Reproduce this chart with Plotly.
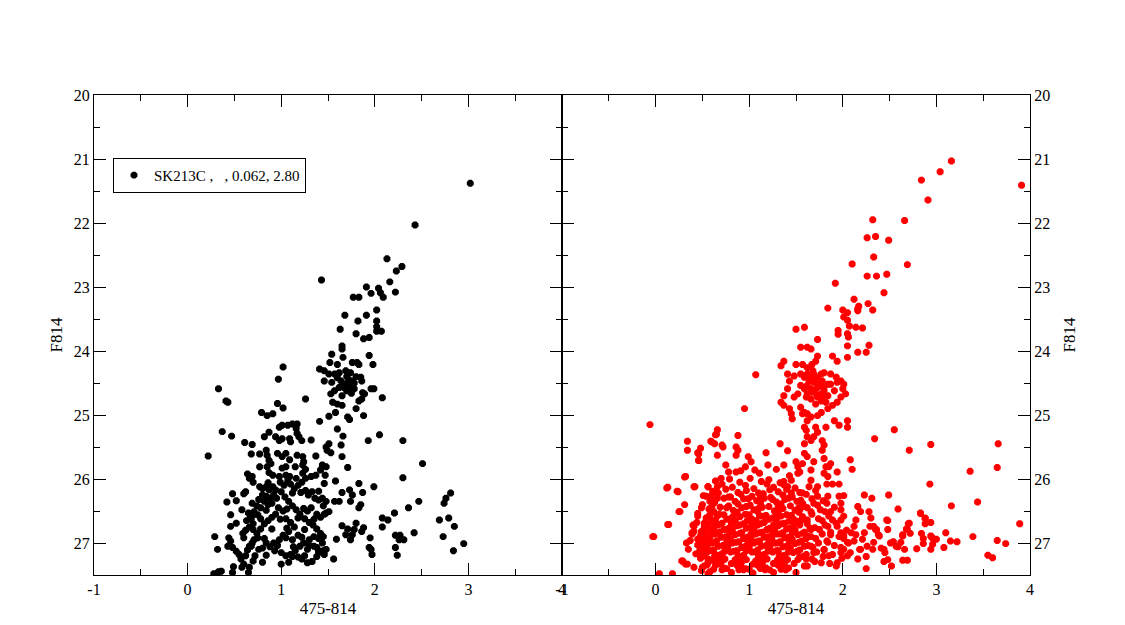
import plotly.graph_objects as go

# ---------------- LEFT PANEL (black) ----------------
left_upper = [(3.02,21.38),(2.43,22.03),(2.13,22.56),(2.29,22.68),(2.23,22.75),(2.16,22.92),(2.22,23.08),
 (2.04,23.02),(2.06,23.09),(2.09,23.16),(1.91,23.00),(1.96,23.10),(1.77,23.16),(1.83,23.16),(1.43,22.89),
 (1.68,23.44),(1.91,23.44),(1.82,23.53),(2.02,23.36),(2.02,23.53),(2.02,23.62),(2.02,23.69),(2.07,23.69),
 (1.63,23.66),(1.80,23.73),(1.88,23.81),(1.94,23.79)]

left_clump = [(1.65,23.92),(1.65,23.97),(1.54,24.05),(1.94,24.07),(1.98,24.21),(1.66,24.10),(1.52,24.18),
 (1.60,24.21),(1.76,24.18),(1.81,24.18),(1.83,24.21),(1.41,24.28),(1.46,24.31),(1.51,24.36),(1.57,24.36),
 (1.62,24.34),(1.69,24.31),(1.74,24.34),(1.46,24.47),(1.54,24.49),(1.64,24.47),(1.69,24.52),(1.73,24.49),
 (1.76,24.47),(1.85,24.41),(1.86,24.47),(1.62,24.57),(1.67,24.57),(1.73,24.57),(1.78,24.59),(1.96,24.59),
 (1.99,24.59),(1.87,24.65),(1.89,24.67),(1.53,24.67),(1.57,24.62),(1.65,24.70),(1.83,24.78),(1.86,24.75),
 (2.08,24.73),(1.55,24.80),(1.60,24.83),(1.65,24.85),(1.80,24.90),(1.71,25.03),(1.73,25.07),(1.88,25.01),
 (1.51,25.02),(1.58,24.96),(1.41,25.10),(1.70,24.40),(1.72,24.45),(1.66,24.52),(1.78,24.50),(1.70,24.62),
 (1.75,24.66),(1.60,24.42),(1.80,24.40)]

left_mid = [(1.60,25.22),(1.66,25.33),(1.93,25.40),(2.05,25.31),(2.30,25.40),(1.51,25.45),(1.48,25.50),
 (1.49,25.55),(1.64,25.47),(1.65,25.65),(1.53,25.59),(2.51,25.76),(1.71,25.82),(1.58,26.03),(1.83,26.07),
 (1.99,26.12),(2.30,25.98),(1.87,26.21),(1.73,26.17),(1.76,26.25),(1.74,26.35),(1.65,26.21),(1.57,26.35),
 (1.62,26.35),(1.85,26.40),(1.83,26.45),(1.51,26.51),(1.48,26.53)]

left_tail = [(2.21,26.53),(2.14,26.64),(2.08,26.61),(2.08,26.75),(2.36,26.45),(2.47,26.35),(2.69,26.64),
 (2.74,26.38),(2.76,26.30),(2.81,26.22),(2.79,26.61),(2.85,26.74),(2.73,26.90),(2.84,27.12),(2.95,27.01),
 (2.42,26.84),(2.22,26.88),(2.27,26.88),(2.26,26.95),(2.31,26.95),(2.22,27.07),(2.24,27.19),(1.95,26.92),
 (1.94,27.07),(1.96,27.10),(1.97,27.18),(1.65,26.73),(1.71,26.78),(1.80,26.69),(1.78,26.79),(1.76,26.87),
 (1.74,26.95),(1.88,26.76),(1.86,26.82),(1.69,26.87),(1.59,26.94),(1.56,27.25),(1.48,27.10),(1.46,27.18),
 (1.44,27.00),(1.33,27.29),(1.38,27.07),(1.40,27.12)]

left_blue = [(0.22,25.64),(0.33,24.59),(0.41,24.78),(0.43,24.80),(0.37,25.26),(0.47,25.33),(0.61,25.43),
 (0.69,25.46),(0.97,24.44),(1.02,24.25),(0.96,24.82),(1.02,24.89),(0.79,24.96),(0.85,25.01),(0.91,24.98),
 (1.26,24.75),(0.82,25.34),(0.87,25.27),(0.98,25.19),(1.01,25.16),(1.07,25.16),(1.12,25.14),(1.17,25.14),
 (1.16,25.21),(1.17,25.29),(1.19,25.34),(0.94,25.34),(0.98,25.40),(1.01,25.37),(1.09,25.37),(1.10,25.42),
 (1.22,25.40),(1.32,25.39)]

left_core = [(0.68,25.61),(0.77,25.61),(0.84,25.55),(0.85,25.63),(0.87,25.71),(0.96,25.60),(1.01,25.65),
 (1.05,25.60),(1.09,25.70),(1.17,25.63),(1.23,25.65),(1.24,25.73),(1.37,25.64),(0.77,25.81),(0.85,25.81),
 (0.89,25.76),(1.01,25.83),(1.05,25.81),(1.15,25.81),(1.23,25.78),(1.26,25.85),(1.44,25.78),(1.48,25.81),
 (1.42,25.86),(0.64,25.92),(0.66,25.99),(0.69,25.96),(0.87,25.90),(0.91,25.94),(0.98,25.96),(1.05,25.94),
 (1.09,25.96),(1.16,25.99),(1.23,25.91),(1.26,25.99),(1.32,25.96),(1.37,25.94),(1.47,25.94),(1.46,26.07),
 (0.48,26.23),(0.42,26.36),(0.52,26.34),(0.60,26.23),(0.46,26.56),(0.52,26.69),(0.46,26.74),(0.59,26.85),
 (0.29,26.90),(0.32,27.10),(0.44,26.92),(0.46,26.97),(0.43,27.05),(0.48,27.07),(0.49,27.37),(0.36,27.44),
 (0.28,27.48),(0.52,27.13),(0.55,27.18),(0.57,27.25),(0.60,27.33),(0.66,27.38),(0.65,27.46),(0.58,27.38),
 (0.70,27.28),(0.64,27.11),(0.68,27.05),(0.69,27.00),(0.71,26.95),(0.75,26.92),(0.65,26.53),(0.67,26.58),
 (0.71,26.51),(0.75,26.56),(0.69,26.38),(0.77,26.12),(0.80,26.15),(0.84,26.12),(0.87,26.17),(0.91,26.12),
 (0.94,26.17),(0.80,26.25),(0.84,26.27),(0.88,26.30),(0.92,26.25),(0.95,26.30),(0.82,26.35),(0.86,26.40),
 (0.90,26.38),(0.78,26.45),(0.99,26.05),(1.03,26.10),(1.07,26.03),(1.10,26.08),(1.14,26.15),(1.18,26.10),
 (1.22,26.05),(1.26,26.18),(1.29,26.25),(1.33,26.20),(1.36,26.30),(1.40,26.33),(1.44,26.30),(1.48,26.35),
 (1.00,26.20),(1.04,26.28),(1.08,26.35),(1.12,26.42),(1.16,26.48),(1.20,26.55),(1.25,26.62),(1.30,26.68),
 (1.34,26.72),(1.38,26.78),(1.42,26.85),(1.45,26.90),(0.97,26.45),(1.02,26.50),(0.94,26.55),(0.90,26.60),
 (0.86,26.65),(0.82,26.70),(0.78,26.78),(0.74,26.85),(1.05,26.62),(1.10,26.68),(1.14,26.75),(1.08,26.82),
 (1.02,26.88),(0.98,26.95),(0.92,27.00),(0.88,27.06),(0.84,27.00),(0.80,27.08),(1.00,27.15),(1.05,27.20),
 (1.10,27.18),(1.15,27.12),(1.20,27.05),(1.24,27.00),(1.28,27.10),(1.25,27.20),(1.22,27.25),(1.18,27.22),
 (1.00,27.33),(0.72,27.20),(0.76,27.10),(0.93,27.12),(1.35,27.05),(1.40,27.15),(1.45,27.12),(1.30,26.95),
 (1.35,26.90),(1.18,26.88),(1.12,26.95),(0.70,26.70),(0.66,26.75),(0.62,26.80),(0.63,26.65),(0.68,26.62),
 (0.72,26.55),(0.74,26.42),(0.76,26.32),(1.32,26.45),(1.28,26.50),(1.38,26.55),(1.42,26.60),(1.46,26.55),
 (1.45,26.42),(0.70,26.05),(0.86,26.06),(1.12,26.22),(1.21,26.21),(1.40,26.19),(0.62,26.20),(0.58,26.48),
 (0.84,26.49),(1.06,26.47),(1.24,26.46),(0.78,26.62),(0.99,26.63),(1.18,26.61),(1.35,26.63),(0.70,26.79),
 (0.90,26.78),(1.06,26.77),(1.25,26.79),(0.60,26.92),(0.82,26.93),(1.05,26.92),(1.22,26.91),(1.40,26.93),
 (0.66,27.05),(0.96,27.04),(1.13,27.06),(1.30,27.04),(0.62,27.20),(0.84,27.19),(1.12,27.21),(1.38,27.21),
 (0.80,27.30),(1.08,27.30),(1.28,27.31),(0.33,27.45),(0.48,27.46)]

# ---------------- RIGHT PANEL (red) ----------------
right_upper = [(3.16,21.03),(3.04,21.20),(2.84,21.33),(2.91,21.64),(3.91,21.41),(2.66,21.96),(2.32,21.95),
 (2.26,22.23),(2.35,22.21),(2.49,22.27),(2.33,22.53),(2.10,22.64),(2.69,22.65),(2.26,22.83),(2.36,22.83),
 (2.47,22.80),(1.92,22.94),(2.44,23.09),(2.12,23.19),(1.84,23.33),(2.00,23.36),(2.05,23.40),(2.01,23.47),
 (2.05,23.52),(2.16,23.37),(2.17,23.30),(2.16,23.34),(2.27,23.26),(2.32,23.36),(2.07,23.61),(2.14,23.63),
 (2.21,23.64),(1.95,23.68),(2.05,23.73),(1.50,23.66),(1.59,23.63),(1.73,23.82),(1.95,23.74),(2.06,23.78),
 (2.05,23.92),(2.28,23.91),(2.16,24.02),(2.25,24.02),(2.05,24.10),(1.55,23.94),(1.62,23.94),(1.66,23.97),
 (1.73,24.08),(1.71,24.16),(1.89,24.08),(1.94,24.16),(1.37,24.16),(1.34,24.23),(1.07,24.37),(1.50,24.21),
 (1.57,24.21),(1.62,24.26),(1.67,24.21)]

right_clump = [(1.41,24.36),(1.43,24.47),(1.48,24.39),(1.55,24.36),(1.59,24.41),(1.62,24.36),(1.66,24.41),
 (1.69,24.36),(1.73,24.41),(1.77,24.36),(1.80,24.34),(1.87,24.36),(1.93,24.41),(1.98,24.47),(2.01,24.52),
 (2.00,24.59),(2.03,24.67),(1.98,24.72),(1.94,24.80),(1.89,24.85),(1.84,24.90),(1.77,24.96),(1.73,25.01),
 (1.66,25.03),(1.62,24.98),(1.59,24.96),(1.55,24.88),(1.41,24.59),(1.37,24.70),(1.34,24.80),(1.37,24.85),
 (1.43,24.90),(1.45,24.98),(1.46,25.06),(1.48,24.72),(1.52,24.67),(1.55,24.54),(1.59,24.59),(1.62,24.54),
 (1.66,24.59),(1.69,24.62),(1.73,24.57),(1.77,24.67),(1.80,24.62),(1.84,24.70),(1.87,24.52),(1.91,24.62),
 (1.78,24.47),(1.69,24.49),(1.64,24.47),(1.73,24.72),(1.66,24.75),(1.77,24.78),(1.82,24.80),(1.61,24.72),
 (1.71,24.83),(1.62,24.67),(1.68,24.31),(1.84,24.52),(1.94,24.49),(1.70,24.45),(1.75,24.52),(1.80,24.56),
 (1.67,24.64),(1.72,24.68),(1.78,24.73),(0.95,24.90)]

right_stream = [(-0.06,25.15),(1.57,24.98),(1.62,25.09),(1.59,25.19),(1.61,25.24),(1.62,25.34),(1.66,25.40),
 (1.59,25.45),(1.71,25.19),(1.73,25.27),(1.69,25.34),(1.82,25.19),(1.91,25.09),(1.96,25.16),(2.05,25.09),
 (2.05,25.19),(1.78,25.40),(1.80,25.47),(1.78,25.55),(1.80,25.68),(1.59,25.60),(1.62,25.65),(1.57,25.76),
 (1.52,25.81),(1.54,25.89),(1.69,25.73),(1.87,25.76),(1.85,25.81),(1.94,25.89),(1.84,25.96),(2.08,25.70),
 (2.10,25.85),(1.80,25.91),(1.82,25.81),(1.66,25.86),(1.66,26.02),(1.64,26.12),(1.57,26.22),(1.55,26.33),
 (1.59,26.43),(1.54,26.48),(1.50,25.73),(1.52,25.91),(1.43,25.95),(1.37,26.04),(1.41,26.12),(1.45,26.22),
 (1.33,25.45),(1.41,25.56),(1.37,25.78),(1.29,25.85),(1.20,25.78),(1.18,25.59),(0.99,25.65),(1.02,25.73),
 (1.06,25.86),(1.11,25.91),(0.96,25.81),(0.91,25.87),(0.86,25.89),(0.88,25.32),(0.86,25.50),(0.88,25.55),
 (0.86,25.63),(0.66,25.23),(0.65,25.30),(0.59,25.41),(0.63,25.45),(0.72,25.50),(0.66,25.63),(0.75,25.78),
 (0.78,25.89),(0.70,25.99),(0.66,26.12),(0.65,26.22),(0.59,26.27),(0.58,26.35),(0.34,25.41),(0.34,25.55),
 (0.48,25.52),(0.46,25.61),(0.46,25.71),(0.32,25.96),(0.42,26.12),(0.13,26.13),(0.24,26.20),(0.31,26.40),
 (0.26,26.51),(0.14,26.71),(-0.02,26.90),(0.04,27.48),(0.18,27.48),(0.60,25.42),(0.64,25.31),(0.71,25.47),
 (0.41,26.12),(0.31,25.97),(0.40,26.72),(0.39,26.86),(0.28,27.28),(0.32,27.33)]

right_tail = [(2.34,25.37),(2.55,25.23),(2.71,25.55),(2.94,25.46),(3.66,25.45),(3.36,25.88),(3.65,25.82),
 (2.93,26.08),(3.16,26.42),(3.44,26.36),(3.89,26.70),(2.49,26.25),(2.59,26.47),(2.31,26.30),(2.23,26.25),
 (2.83,26.53),(2.88,26.61),(2.94,26.68),(2.88,26.70),(3.10,26.84),(3.15,26.97),(3.22,26.98),(3.08,27.07),
 (3.39,26.90),(3.65,26.96),(3.74,27.01),(3.55,27.19),(3.60,27.23),(2.94,26.89),(2.97,26.94),(2.96,27.02),
 (2.94,27.10),(2.79,27.09),(2.71,26.69),(2.69,26.79),(2.64,26.89),(2.62,26.99),(2.66,27.10),(2.57,27.05),
 (2.51,27.00),(2.44,27.10),(2.48,27.26),(2.52,27.36),(2.64,27.27),(2.69,27.27),(2.48,26.65),(2.48,26.79),
 (2.35,26.79),(2.39,26.89),(2.33,26.99),(2.32,27.10),(2.26,27.05),(2.19,27.10),(2.16,27.25),(2.25,27.40),
 (2.44,27.29),(2.28,26.51),(2.30,26.61),(2.33,26.74),(2.16,26.43),(2.19,26.51),(2.14,26.64),(2.12,26.74),
 (2.09,26.84),(2.14,26.87),(2.23,26.84),(2.21,26.94),(2.01,26.58),(1.98,26.64),(1.94,26.74),(1.98,26.84),
 (2.01,26.89),(2.05,26.99),(2.01,27.10),(1.98,27.15),(1.94,27.31),(1.93,27.36),(2.05,27.20),(1.96,26.27),
 (2.01,26.26),(1.98,26.38),(1.98,26.48),(1.83,26.08),(1.89,26.08),(1.96,26.08),(1.84,26.27),(1.83,26.38),
 (1.87,26.51),(1.89,26.64),(1.84,26.74),(1.87,26.87),(1.84,26.99),(1.80,27.10),(1.85,27.20),(1.77,27.31),
 (1.73,26.12),(1.73,26.27),(1.69,26.38),(1.66,26.51),(1.62,26.64),(1.66,26.79),(1.62,26.89),(1.66,27.05),
 (1.69,27.15),(1.61,27.25),(1.59,27.36),(2.84,26.85),(2.86,26.93),(2.86,27.01),(2.95,26.91),(3.00,26.94),
 (2.70,26.70),(2.68,26.78),(2.72,26.85),(2.64,26.87),(2.47,26.64),(2.54,26.98),(2.59,27.06),(2.41,27.08),
 (2.45,27.15),(2.36,26.79),(2.38,26.87),(2.29,26.74),(2.88,26.62),(2.83,26.54)]

right_left_edge = [(0.56,26.12),(0.54,26.27),(0.49,26.45),(0.45,26.58),(0.41,26.74),(0.39,26.84),(0.33,27.00),
 (0.29,27.28),(0.34,27.33),(0.41,27.38),(0.49,27.43),(0.56,27.48),(0.52,27.36),(0.56,27.25),(0.50,27.15),
 (0.47,27.05),(0.45,26.94),(0.49,26.82),(0.52,26.69),(0.58,26.56),(0.59,26.48),(0.45,25.59),(0.46,25.71),
 (0.12,26.14),(0.23,26.19),(0.25,26.51),(0.13,26.71),(-0.03,26.90)]

# dense core of the right panel, read point by point (colour, F814)
right_core = [
 (0.64,26.03),(0.79,26.00),(0.90,26.05),(1.01,25.99),(1.13,26.04),(1.21,26.01),(1.33,26.06),(1.45,26.02),
 (0.56,26.12),(0.71,26.08),(0.82,26.13),(0.96,26.10),(1.05,26.15),(1.19,26.08),(1.26,26.13),(1.37,26.09),(1.49,26.14),
 (0.61,26.19),(0.75,26.16),(0.88,26.21),(0.97,26.18),(1.10,26.22),(1.22,26.17),(1.31,26.20),(1.40,26.16),(1.54,26.21),(1.71,26.18),
 (0.51,26.26),(0.67,26.22),(0.78,26.28),(0.91,26.24),(1.03,26.27),(1.15,26.23),(1.23,26.29),(1.36,26.25),(1.46,26.28),(1.61,26.24),
 (0.59,26.33),(0.73,26.30),(0.85,26.35),(0.94,26.31),(1.08,26.34),(1.16,26.30),(1.29,26.36),(1.38,26.32),(1.51,26.35),(1.67,26.31),(1.79,26.34),
 (0.50,26.40),(0.63,26.37),(0.78,26.42),(0.88,26.39),(1.01,26.41),(1.12,26.37),(1.21,26.43),(1.34,26.39),(1.44,26.42),(1.57,26.38),(1.73,26.41),
 (0.57,26.47),(0.69,26.44),(0.83,26.49),(0.92,26.45),(1.05,26.48),(1.14,26.44),(1.27,26.50),(1.36,26.46),(1.49,26.49),(1.62,26.45),(1.76,26.48),(1.91,26.44),
 (0.45,26.54),(0.62,26.51),(0.73,26.56),(0.87,26.52),(0.96,26.55),(1.09,26.51),(1.18,26.57),(1.31,26.53),(1.40,26.56),(1.53,26.52),(1.67,26.55),(1.81,26.51),
 (0.54,26.61),(0.66,26.58),(0.80,26.62),(0.90,26.59),(1.03,26.63),(1.11,26.58),(1.25,26.61),(1.34,26.58),(1.47,26.62),(1.57,26.59),(1.74,26.62),(1.85,26.58),
 (0.44,26.68),(0.60,26.65),(0.71,26.69),(0.85,26.66),(0.94,26.70),(1.07,26.65),(1.16,26.68),(1.29,26.64),(1.38,26.69),(1.52,26.66),(1.62,26.70),(1.78,26.65),(1.93,26.69),
 (0.52,26.75),(0.63,26.72),(0.78,26.77),(0.87,26.73),(1.00,26.76),(1.09,26.72),(1.22,26.77),(1.31,26.73),(1.44,26.76),(1.54,26.72),(1.70,26.76),(1.81,26.72),
 (0.41,26.82),(0.57,26.79),(0.68,26.83),(0.82,26.80),(0.92,26.84),(1.05,26.79),(1.14,26.83),(1.27,26.79),(1.36,26.84),(1.49,26.80),(1.59,26.83),(1.75,26.79),(1.87,26.83),(2.04,26.80),
 (0.48,26.89),(0.60,26.86),(0.75,26.90),(0.85,26.87),(0.98,26.91),(1.07,26.86),(1.20,26.90),(1.29,26.86),(1.42,26.91),(1.52,26.87),(1.66,26.90),(1.78,26.86),(1.96,26.90),
 (0.37,26.96),(0.54,26.93),(0.65,26.97),(0.80,26.94),(0.89,26.98),(1.02,26.93),(1.11,26.97),(1.24,26.93),(1.33,26.98),(1.46,26.94),(1.56,26.97),(1.71,26.93),(1.83,26.97),(2.01,26.93),(2.12,26.97),
 (0.45,27.03),(0.57,27.00),(0.72,27.04),(0.82,27.00),(0.96,27.05),(1.05,27.00),(1.18,27.04),(1.27,27.00),(1.40,27.05),(1.49,27.01),(1.63,27.04),(1.74,27.00),(1.91,27.04),(2.06,27.00),
 (0.35,27.10),(0.51,27.07),(0.62,27.11),(0.77,27.07),(0.87,27.12),(1.00,27.07),(1.09,27.11),(1.22,27.07),(1.31,27.12),(1.44,27.08),(1.54,27.11),(1.68,27.07),(1.80,27.11),(1.98,27.07),(2.18,27.10),
 (0.43,27.17),(0.55,27.14),(0.70,27.18),(0.80,27.14),(0.94,27.19),(1.03,27.14),(1.16,27.18),(1.25,27.14),(1.38,27.19),(1.47,27.15),(1.61,27.18),(1.72,27.14),(1.89,27.18),(2.08,27.15),
 (0.48,27.24),(0.63,27.21),(0.74,27.25),(0.88,27.21),(0.97,27.26),(1.10,27.21),(1.19,27.25),(1.32,27.21),(1.41,27.26),(1.54,27.22),(1.67,27.25),(1.79,27.21),(1.99,27.24),(2.25,27.21),
 (0.56,27.31),(0.67,27.28),(0.81,27.32),(0.91,27.28),(1.04,27.33),(1.13,27.28),(1.26,27.32),(1.35,27.28),(1.48,27.32),(1.70,27.29),(1.86,27.32),
 (0.50,27.38),(0.64,27.35),(0.73,27.39),(0.87,27.35),(0.96,27.40),(1.09,27.35),(1.18,27.39),(1.31,27.35),(1.42,27.39),(1.62,27.36),
 (0.58,27.45),(0.71,27.42),(0.81,27.46),(0.94,27.42),(1.04,27.47),(1.17,27.42),(1.26,27.46),(1.39,27.42),(1.50,27.46),
]

# extra stars filling the densest part of the right-panel main sequence
right_core_fill = [
 (0.66,26.30),(0.80,26.28),(0.99,26.31),(1.12,26.29),(1.25,26.32),(1.42,26.30),
 (0.60,26.44),(0.76,26.45),(0.97,26.43),(1.10,26.46),(1.31,26.44),(1.53,26.45),
 (0.58,26.57),(0.68,26.55),(0.83,26.58),(1.00,26.56),(1.14,26.58),(1.29,26.56),(1.45,26.57),
 (0.64,26.64),(0.76,26.63),(0.98,26.65),(1.21,26.63),(1.43,26.65),(1.56,26.64),
 (0.56,26.71),(0.67,26.72),(0.81,26.70),(0.90,26.72),(1.03,26.71),(1.12,26.70),(1.26,26.72),(1.35,26.70),(1.48,26.71),
 (0.62,26.78),(0.73,26.79),(0.97,26.77),(1.19,26.79),(1.40,26.78),(1.65,26.77),
 (0.53,26.85),(0.64,26.86),(0.79,26.84),(0.90,26.85),(1.02,26.86),(1.11,26.84),(1.25,26.85),(1.33,26.86),(1.46,26.84),(1.57,26.85),
 (0.58,26.92),(0.70,26.91),(0.94,26.93),(1.16,26.91),(1.38,26.92),(1.61,26.93),
 (0.50,26.99),(0.61,27.00),(0.76,26.98),(0.86,26.99),(0.99,27.00),(1.08,26.98),(1.21,26.99),(1.30,27.00),(1.43,26.98),(1.53,26.99),
 (0.55,27.06),(0.67,27.05),(0.92,27.07),(1.13,27.05),(1.36,27.06),(1.59,27.05),
 (0.47,27.13),(0.59,27.12),(0.73,27.14),(0.84,27.13),(0.97,27.12),(1.07,27.14),(1.20,27.13),(1.29,27.12),(1.42,27.14),(1.51,27.13),
 (0.52,27.20),(0.66,27.19),(0.90,27.21),(1.12,27.19),(1.34,27.20),(1.58,27.21),
 (0.60,27.27),(0.71,27.28),(0.85,27.26),(0.94,27.27),(1.07,27.28),(1.16,27.26),(1.30,27.27),(1.39,27.28),(1.52,27.26),
 (0.55,27.34),(0.69,27.33),(0.91,27.35),(1.14,27.33),(1.37,27.34),
 (0.62,27.41),(0.76,27.40),(0.89,27.42),(1.00,27.41),(1.12,27.40),(1.22,27.42),(1.34,27.41),
]

x_ticks = [-1, 0, 1, 2, 3, 4]
y_ticks = [20, 21, 22, 23, 24, 25, 26, 27]
x_title = "475-814"
y_title = "F814"
legend_name = "SK213C\u00a0,\u00a0\u00a0\u00a0, 0.062, 2.80"

# ---------------- assemble ----------------
left_pts = left_upper + left_clump + left_mid + left_tail + left_blue + left_core
right_pts = (right_upper + right_clump + right_stream + right_tail + right_left_edge
             + right_core + right_core_fill)

FONT = "Liberation Serif"
mk = dict(symbol="octagon", size=7.5, line=dict(width=0))

fig = go.Figure()
fig.add_trace(go.Scatter(x=[p[0] for p in left_pts], y=[p[1] for p in left_pts], mode="markers",
                         marker=dict(color="black", **mk), name=legend_name, xaxis="x", yaxis="y"))
fig.add_trace(go.Scatter(x=[p[0] for p in right_pts], y=[p[1] for p in right_pts], mode="markers",
                         marker=dict(color="#ff0000", **mk), showlegend=False, xaxis="x2", yaxis="y2"))

axis_common = dict(showline=True, linecolor="black", linewidth=1, mirror="ticks", ticks="inside",
                   ticklen=12, tickwidth=1, tickcolor="black", showgrid=False, zeroline=False,
                   automargin=False,
                   tickfont=dict(family=FONT, size=16, color="black"),
                   minor=dict(ticks="inside", ticklen=6, tickwidth=1, tickcolor="black", dtick=0.5,
                              showgrid=False))
xa = dict(axis_common, range=[-1, 4], tickvals=x_ticks, ticktext=[str(v) for v in x_ticks],
          title=dict(text=x_title, font=dict(family=FONT, size=17, color="black"), standoff=4))
ya = dict(axis_common, range=[27.5, 20], tickvals=y_ticks, ticktext=[str(v) for v in y_ticks])
ytitle_font = dict(family=FONT, size=17, color="black")

fig.update_layout(
    width=1125, height=625,
    margin=dict(l=94, r=95, t=95, b=50),
    paper_bgcolor="white", plot_bgcolor="white",
    xaxis=dict(xa, domain=[0, 0.5], anchor="y"),
    yaxis=dict(ya, domain=[0, 1], anchor="x", side="left",
               title=dict(text=y_title, font=ytitle_font, standoff=6)),
    xaxis2=dict(xa, domain=[0.5, 1], anchor="y2"),
    yaxis2=dict(ya, domain=[0, 1], anchor="x2", side="right",
                title=dict(text=y_title, font=ytitle_font, standoff=13)),
    showlegend=True,
    legend=dict(x=0.0203, y=0.869, xanchor="left", yanchor="top", bgcolor="white",
                bordercolor="black", borderwidth=1, font=dict(family=FONT, size=15, color="black"),
                itemwidth=30, tracegroupgap=0),
)

fig.write_html("out.html", config={"displayModeBar": False},
               post_script="document.body.style.margin='0';")
